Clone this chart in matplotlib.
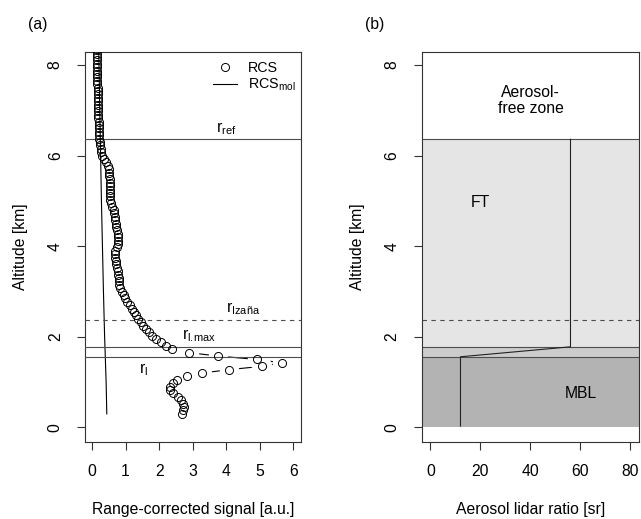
"""
Two-panel lidar profile figure: (a) range-corrected signal with
reference heights, (b) aerosol lidar ratio layers.
"""

import matplotlib
matplotlib.use("Agg")
import matplotlib.pyplot as plt

plt.rcParams["font.family"] = ["Liberation Sans", "DejaVu Sans"]
plt.rcParams["mathtext.fontset"] = "custom"
plt.rcParams["mathtext.rm"] = "Liberation Sans"
plt.rcParams["mathtext.default"] = "regular"

FONT_SIZE = 11.3
LEGEND_SIZE = 10.3

# --- panel (a) data: range-corrected signal profile [a.u.] vs altitude [km]
rcs_alt = [
    0.30, 0.375, 0.45, 0.525, 0.60, 0.675, 0.75, 0.825, 0.90, 0.975,
    1.05, 1.125, 1.20, 1.275, 1.35, 1.425, 1.50, 1.575, 1.65, 1.725,
    1.80, 1.875, 1.95, 2.025, 2.10, 2.175, 2.25, 2.325, 2.40, 2.475,
    2.55, 2.625, 2.70, 2.775, 2.85, 2.925, 3.00, 3.075, 3.15, 3.225,
    3.30, 3.375, 3.45, 3.525, 3.60, 3.675, 3.75, 3.825, 3.90, 3.975,
    4.05, 4.125, 4.20, 4.275, 4.35, 4.425, 4.50, 4.575, 4.65, 4.725,
    4.80, 4.875, 4.95, 5.025, 5.10, 5.175, 5.25, 5.325, 5.40, 5.475,
    5.55, 5.625, 5.70, 5.775, 5.85, 5.925, 6.00, 6.075, 6.15, 6.225,
    6.30, 6.375, 6.45, 6.525, 6.60, 6.675, 6.75, 6.825, 6.90, 6.975,
    7.05, 7.125, 7.20, 7.275, 7.35, 7.425, 7.50, 7.575, 7.65, 7.725,
    7.80, 7.875, 7.95, 8.025, 8.10, 8.175, 8.25, 8.325,
]
rcs_val = [
    2.67, 2.72, 2.74, 2.72, 2.65, 2.55, 2.40, 2.32, 2.33, 2.40,
    2.52, 2.84, 3.27, 4.08, 5.06, 5.65, 4.92, 3.77, 2.90, 2.39,
    2.20, 2.05, 1.90, 1.78, 1.70, 1.62, 1.53, 1.45, 1.38, 1.32,
    1.25, 1.18, 1.12, 1.05, 0.99, 0.94, 0.89, 0.84, 0.81, 0.80,
    0.79, 0.77, 0.76, 0.74, 0.72, 0.70, 0.67, 0.67, 0.69, 0.73,
    0.76, 0.77, 0.77, 0.76, 0.74, 0.72, 0.70, 0.68, 0.67, 0.65,
    0.64, 0.60, 0.57, 0.55, 0.54, 0.54, 0.54, 0.54, 0.54, 0.53,
    0.52, 0.51, 0.50, 0.47, 0.42, 0.35, 0.30, 0.28, 0.27, 0.25,
    0.23, 0.22, 0.21, 0.21, 0.20, 0.20, 0.20, 0.19, 0.19, 0.19,
    0.18, 0.18, 0.18, 0.17, 0.17, 0.17, 0.17, 0.16, 0.16, 0.16,
    0.16, 0.16, 0.15, 0.15, 0.15, 0.15, 0.15, 0.15,
]

# molecular range-corrected signal
mol_alt = [0.3, 1.0, 2.0, 3.0, 4.0, 5.0, 6.0, 7.0, 8.3]
mol_val = [0.44, 0.42, 0.375, 0.34, 0.31, 0.28, 0.255, 0.23, 0.20]

# reference heights [km]
r_ref = 6.36
r_izana = 2.37
r_lmax = 1.78
r_l = 1.56

# --- panel (b) data: lidar ratio profile [sr]
lr_alt = [r_ref, r_lmax, r_l, 0.03]
lr_val = [56, 56, 12, 12]

x_ticks_a = [0, 1, 2, 3, 4, 5, 6]
x_ticks_b = [0, 20, 40, 60, 80]
y_ticks = [0, 2, 4, 6, 8]

LINE_GRAY = "#4d4d4d"


def style_axes(ax):
    for sp in ax.spines.values():
        sp.set_linewidth(0.8)
        sp.set_color("#333333")
    ax.tick_params(direction="out", length=6, width=0.8, color="#333333",
                   pad=10, labelsize=FONT_SIZE)
    ax.set_yticks(y_ticks)
    for lab in ax.get_yticklabels():
        lab.set_rotation(90)
        lab.set_va("center")
    ax.set_ylim(-0.32, 8.28)
    ax.set_ylabel("Altitude [km]", fontsize=FONT_SIZE)
    ax.yaxis.set_label_coords(-0.265, 0.5)
    ax.xaxis.set_label_coords(0.5, -0.155)


fig = plt.figure(figsize=(6.41, 5.19), dpi=100)
ax_a = fig.add_axes([0.1326, 0.1484, 0.337, 0.751])
ax_b = fig.add_axes([0.6583, 0.1484, 0.3378, 0.751])

# ---------------- panel (a)
ax_a.plot(rcs_val, rcs_alt, color="black", lw=0.8, zorder=1)
ax_a.plot(rcs_val, rcs_alt, ls="none", marker="o", ms=14,
          mfc="white", mec="none", zorder=2)
mol_line, = ax_a.plot(mol_val, mol_alt, color="black", lw=0.8, zorder=3)
for h in (r_ref, r_lmax, r_l):
    ax_a.axhline(h, color=LINE_GRAY, lw=0.8, zorder=3)
ax_a.axhline(r_izana, color=LINE_GRAY, lw=0.8, ls=(0, (4, 4)), zorder=3)
rcs_pts, = ax_a.plot(rcs_val, rcs_alt, ls="none", marker="o", ms=5.8,
                     mfc="none", mec="black", mew=0.7, zorder=4)

ax_a.text(4.0, r_ref + 0.06, "r$_{ref}$", ha="center", va="bottom", fontsize=FONT_SIZE)
ax_a.text(4.5, r_izana + 0.06, "r$_{Izaña}$", ha="center", va="bottom", fontsize=FONT_SIZE)
ax_a.text(3.2, r_lmax + 0.06, r"r$_{l.\!max}$", ha="center", va="bottom", fontsize=FONT_SIZE)
ax_a.text(1.54, r_l - 0.1, "r$_{l}$", ha="center", va="top", fontsize=FONT_SIZE)

ax_a.legend([rcs_pts, mol_line], ["RCS", "RCS$_{mol}$"], loc="upper right",
            bbox_to_anchor=(0.99, 0.985), frameon=False, fontsize=LEGEND_SIZE,
            handlelength=1.7, labelspacing=0.15, borderpad=0.2,
            borderaxespad=0.0, handletextpad=0.8)

ax_a.set_xlim(-0.21, 6.23)
ax_a.set_xticks(x_ticks_a)
ax_a.set_xlabel("Range-corrected signal [a.u.]", fontsize=FONT_SIZE)
style_axes(ax_a)

# ---------------- panel (b)
ax_b.axhspan(0, r_l, color="#b3b3b3", lw=0, zorder=0)
ax_b.axhspan(r_l, r_lmax, color="#cccccc", lw=0, zorder=0)
ax_b.axhspan(r_lmax, r_ref, color="#e5e5e5", lw=0, zorder=0)
for h in (r_ref, r_lmax, r_l):
    ax_b.axhline(h, color=LINE_GRAY, lw=0.8, zorder=2)
ax_b.axhline(r_izana, color=LINE_GRAY, lw=0.8, ls=(0, (4, 4)), zorder=2)
ax_b.plot(lr_val, lr_alt, color="#222222", lw=0.8, zorder=3)

ax_b.text(40, 7.22, "Aerosol-\nfree zone", ha="center", va="center",
          fontsize=FONT_SIZE, linespacing=1.05)
ax_b.text(20, 4.96, "FT", ha="center", va="center", fontsize=FONT_SIZE)
ax_b.text(60, 0.76, "MBL", ha="center", va="center", fontsize=FONT_SIZE)

ax_b.set_xlim(-3.4, 83.2)
ax_b.set_xticks(x_ticks_b)
ax_b.set_xlabel("Aerosol lidar ratio [sr]", fontsize=FONT_SIZE)
style_axes(ax_b)

fig.text(38 / 641, 1 - 24 / 519, "(a)", ha="center", va="center", fontsize=FONT_SIZE)
fig.text(375 / 641, 1 - 24 / 519, "(b)", ha="center", va="center", fontsize=FONT_SIZE)

fig.savefig("out.png", dpi=100)
